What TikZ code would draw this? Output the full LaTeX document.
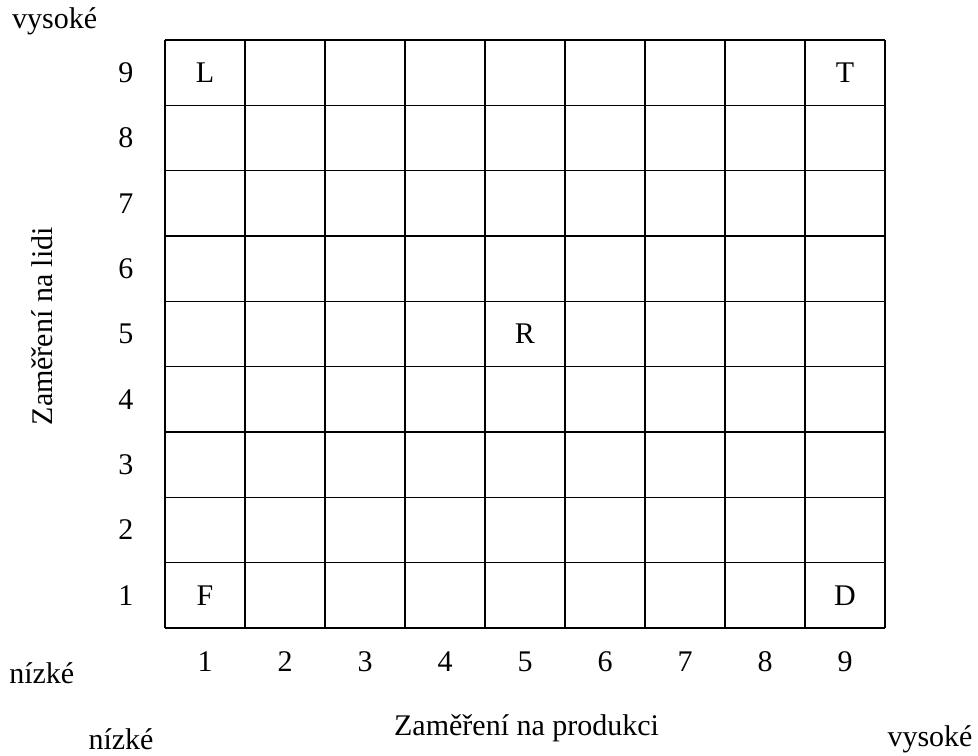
\documentclass[tikz,border=0pt]{standalone}
\usepackage{fontspec}
\setmainfont{Liberation Serif}
\usepackage{tikz}

\begin{document}
\begin{tikzpicture}[x=80pt, y=65.33pt, line width=1.5pt,
    lbl/.style={font=\fontsize{30}{35}\selectfont, inner sep=0pt}]
  \useasboundingbox (-2.0625,-1.944) rectangle (10.1625,9.613);
  % grid
  \foreach \i in {0,...,9} {
    \draw (\i,0) -- (\i,9);
    \draw (0,\i) -- (9,\i);
  }
  % scale numbers
  \foreach \i in {1,...,9} {
    \node[lbl] (row\i) at (-0.49,\i-0.5) {\i};
    \node[lbl] (col\i) at (\i-0.5,-0.52) {\i};
  }
  % letters in the cells
  \node[lbl] (L) at (0.5,8.5) {L};
  \node[lbl] (T) at (8.5,8.5) {T};
  \node[lbl] (R) at (4.5,4.5) {R};
  \node[lbl] (F) at (0.5,0.5) {F};
  \node[lbl] (D) at (8.5,0.5) {D};
  % axis captions
  \node[lbl, anchor=base] (yhigh) at (-1.379,9.184) {vysoké};
  \node[lbl, anchor=base] (ylow) at (-1.54,-0.842) {nízké};
  \node[lbl, anchor=base, rotate=90] (ytitle) at (-1.40,4.62) {Zaměření na lidi};
  \node[lbl, anchor=base] (xtitle) at (4.52,-1.638) {Zaměření na produkci};
  \node[lbl, anchor=base] (xlow) at (-0.55,-1.852) {nízké};
  \node[lbl, anchor=base] (xhigh) at (9.5625,-1.806) {vysoké};
\end{tikzpicture}
\end{document}
